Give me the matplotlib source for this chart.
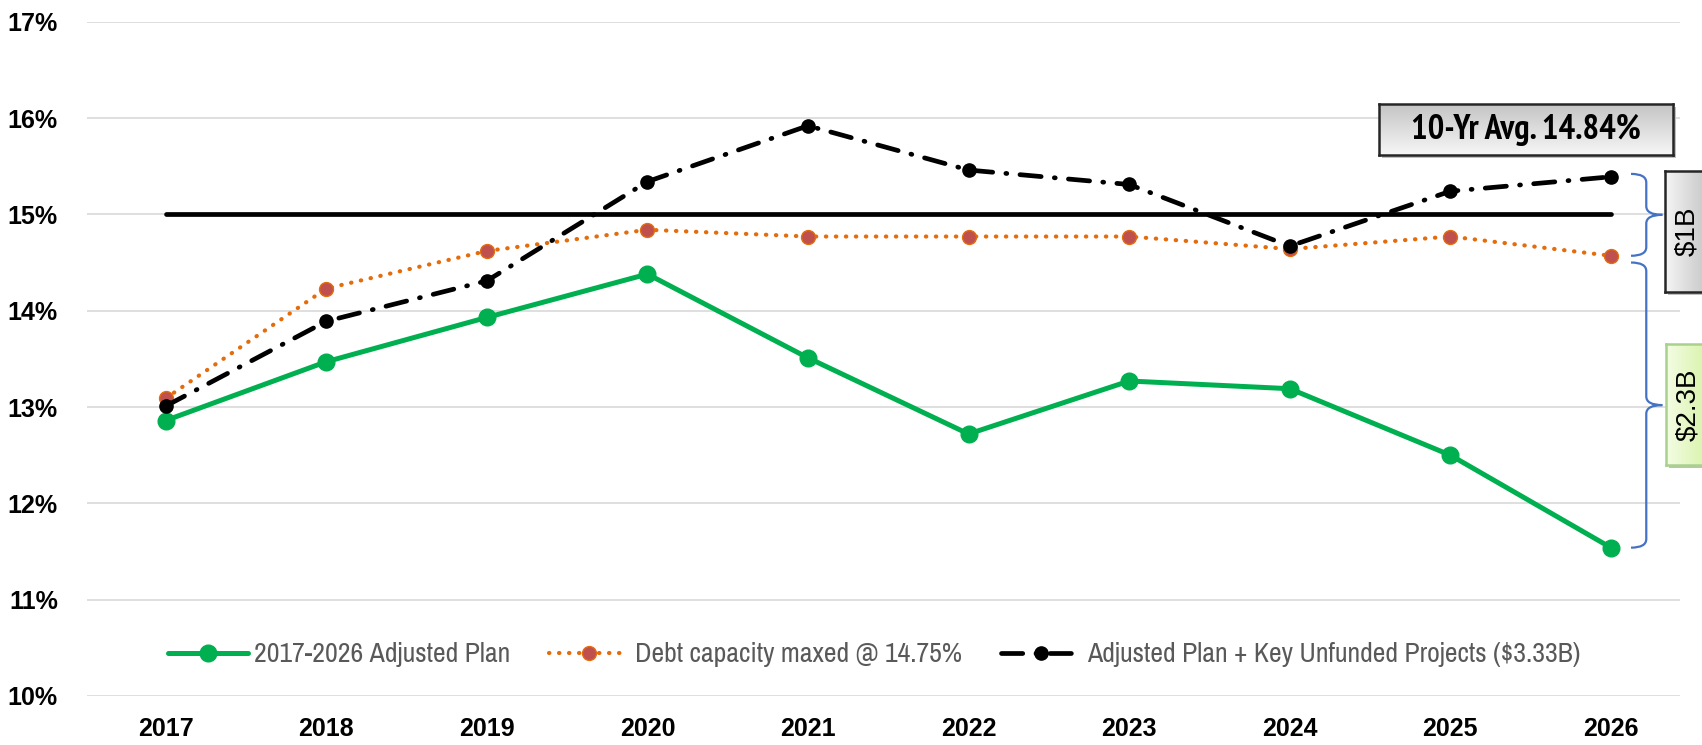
import matplotlib.pyplot as plt
import numpy as np
from matplotlib.path import Path
from matplotlib.patches import PathPatch
from matplotlib.colors import LinearSegmentedColormap

years = ["2017", "2018", "2019", "2020", "2021", "2022", "2023", "2024", "2025", "2026"]
adjusted_plan = [12.86, 13.47, 13.93, 14.38, 13.51, 12.72, 13.27, 13.19, 12.50, 11.54]
debt_maxed = [13.09, 14.23, 14.62, 14.84, 14.77, 14.77, 14.77, 14.64, 14.77, 14.57]
plan_unfunded = [13.01, 13.89, 14.31, 15.34, 15.92, 15.46, 15.31, 14.67, 15.24, 15.39]
avg_line = 15.0
series_labels = ["2017-2026 Adjusted Plan", "Debt capacity maxed @ 14.75%",
                 "Adjusted Plan + Key Unfunded Projects ($3.33B)"]

narrow = ["Archivo Narrow", "Roboto Condensed", "Liberation Sans"]
narrow_bold = ["PT Sans Narrow", "Roboto Condensed", "Pragati Narrow", "Archivo Narrow"]
W, H = 1702, 745

fig = plt.figure(figsize=(W / 100, H / 100), dpi=100)
ax = fig.add_axes([87 / W, 1 - 696 / H, (1680 - 87) / W, (696 - 21.7) / H])
x = np.arange(len(years))

ax.plot(x, adjusted_plan, color="#00B050", lw=3.6, marker="o", ms=12,
        solid_capstyle="round", zorder=4, label=series_labels[0])
ax.plot(x, debt_maxed, color="#E46C0A", lw=3.0, ls=(0, (0.1, 2.3)),
        dash_capstyle="round", marker="o", ms=10, mfc="#C0504D", mec="#E46C0A",
        mew=1, zorder=3, label=series_labels[1])
ax.plot(x, plan_unfunded, color="black", lw=3.4, ls=(0, (4.5, 2.8, 0.2, 2.8)),
        dash_capstyle="round", marker="o", ms=9.5, zorder=5, label=series_labels[2])
ax.plot([x[0], x[-1]], [avg_line, avg_line], color="black", lw=3.4,
        solid_capstyle="round", zorder=2)

ax.set_xlim(-0.49, 9.43)
ax.set_ylim(10, 17)
ax.set_yticks(np.arange(10, 18))
ax.set_yticklabels([f"{v}%" for v in range(10, 18)])
ax.set_xticks(x)
ax.set_xticklabels(years)
ax.grid(axis="y", color="#D9D9D9", lw=1.2)
ax.set_axisbelow(True)
for s in ax.spines.values():
    s.set_visible(False)
ax.tick_params(length=0, labelsize=18)
ax.tick_params(axis="y", pad=21)
ax.tick_params(axis="x", pad=15)
for t in ax.get_xticklabels() + ax.get_yticklabels():
    t.set_fontweight("bold")
    t.set_family("Liberation Sans")

leg = ax.legend(loc="center", bbox_to_anchor=(0.494, 0.061), ncol=3, frameon=False,
                handlelength=2.9, handletextpad=0.2, columnspacing=1.4,
                prop={"family": narrow, "size": 20})
for t in leg.get_texts():
    t.set_color("#595959")


# curly brackets on the right
def bracket(y_top, y_bot, x_end=9.125, x_spine=9.22, x_tip=9.32, r=0.09):
    y_mid = (y_top + y_bot) / 2
    verts = [(x_end, y_top), (x_spine, y_top), (x_spine, y_top - r),
             (x_spine, y_mid + r), (x_spine, y_mid), (x_tip, y_mid),
             (x_spine, y_mid), (x_spine, y_mid - r),
             (x_spine, y_bot + r), (x_spine, y_bot), (x_end, y_bot)]
    codes = [Path.MOVETO, Path.CURVE3, Path.CURVE3, Path.LINETO, Path.CURVE3, Path.CURVE3,
             Path.CURVE3, Path.CURVE3, Path.LINETO, Path.CURVE3, Path.CURVE3]
    ax.add_patch(PathPatch(Path(verts, codes), fill=False, ec="#4472C4", lw=1.6,
                           clip_on=False, zorder=6))


bracket(plan_unfunded[-1] + 0.03, debt_maxed[-1])
bracket(debt_maxed[-1] - 0.07, adjusted_plan[-1])


# gradient label boxes (pixel coords, top-down)
def grad_box(x0, y0, x1, y1, c_top, c_bot, edge, text, rot=0, horiz=False, **kw):
    sh = fig.add_axes([(x0 + 3) / W, 1 - (y1 + 3) / H, (x1 - x0) / W, (y1 - y0) / H])
    sh.set_facecolor("#BFBFBF")
    sh.set_xticks([]); sh.set_yticks([])
    for s in sh.spines.values():
        s.set_visible(False)
    bx = fig.add_axes([x0 / W, 1 - y1 / H, (x1 - x0) / W, (y1 - y0) / H])
    cmap = LinearSegmentedColormap.from_list("g", [c_top, c_bot])
    g = np.linspace(0, 1, 100)
    g = g[None, :] if horiz else g[:, None]
    bx.imshow(g, cmap=cmap, aspect="auto", extent=[0, 1, 0, 1] if horiz else [0, 1, 1, 0])
    bx.set_xlim(0, 1); bx.set_ylim(0, 1)
    bx.set_xticks([]); bx.set_yticks([])
    for s in bx.spines.values():
        s.set_color(edge)
        s.set_linewidth(1.8)
    bx.text(0.5, 0.5, text, ha="center", va="center", rotation=rot,
            transform=bx.transAxes, **kw)


grad_box(1379, 104, 1673, 155, "#F7F7F7", "#C4C4C4", "#262626", "10-Yr Avg. 14.84%",
         family=narrow_bold, fontsize=25, fontweight="bold")
grad_box(1665, 171, 1710, 292, "#F5F5F5", "#C4C4C4", "#262626", "$1B", rot=90,
         horiz=True, family="Liberation Sans", fontsize=20)
grad_box(1666, 344, 1710, 465, "#F4FCE4", "#D6F3A6", "#A9D18E", "$2.3B", rot=90,
         horiz=True, family="Liberation Sans", fontsize=20)

fig.savefig("out.png", dpi=100)
